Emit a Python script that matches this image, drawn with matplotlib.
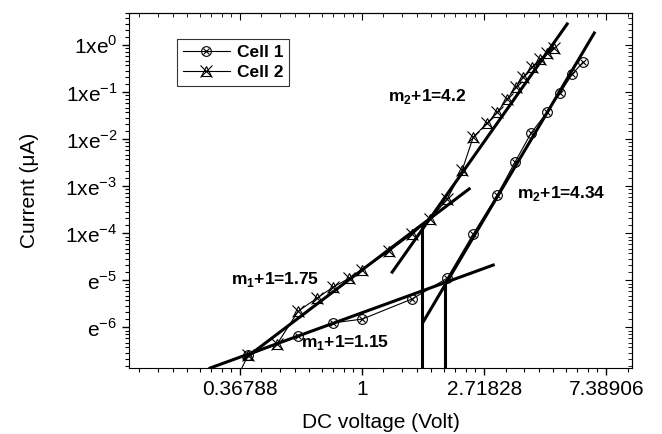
import matplotlib
matplotlib.use("Agg")
import matplotlib.pyplot as plt
import numpy as np
from matplotlib.ticker import FixedLocator, NullFormatter

plt.rcParams['font.family'] = ['Liberation Sans', 'DejaVu Sans']
plt.rcParams['mathtext.fontset'] = 'custom'
plt.rcParams['mathtext.rm'] = 'Liberation Sans'
plt.rcParams['mathtext.bf'] = 'Liberation Sans:bold'

# Cell 1 data: voltage (V) and ln(current)
v_cell1 = [0.393, 0.592, 0.788, 1.0, 1.507, 2.007, 2.484, 3.025, 3.50, 3.996, 4.55, 5.07, 5.59, 6.12]
lni_cell1 = [-6.60, -6.19, -5.91, -5.83, -5.40, -4.96, -4.02, -3.19, -2.49, -1.87, -1.43, -1.02, -0.62, -0.36]

# Cell 2 data
v_cell2 = [0.36, 0.393, 0.498, 0.592, 0.692, 0.788, 0.899, 1.0, 1.248, 1.507, 1.746, 2.007, 2.27,
           2.484, 2.786, 3.025, 3.283, 3.533, 3.743, 4.028, 4.30, 4.55, 4.83]
lni_cell2 = [-7.05, -6.60, -6.36, -5.66, -5.38, -5.15, -4.96, -4.79, -4.38, -4.02, -3.70, -3.28, -2.66,
             -1.96, -1.66, -1.43, -1.15, -0.89, -0.68, -0.47, -0.30, -0.17, -0.06]

# fitted lines: (ln V start, ln I start, ln V end, ln I end)
fit_lines = {
    'm1_cell2': (-0.967, -6.68, 0.877, -3.06),
    'm2_cell2': (0.246, -4.83, 1.680, 0.447),
    'm1_cell1': (-1.246, -6.87, 1.074, -4.68),
    'm2_cell1': (0.500, -5.89, 1.902, 0.255),
}
# vertical markers at the crossing points (ln V, ln I top)
crossings = [(0.492, -3.87), (0.680, -5.06)]

fit_labels = [r'm$_\mathbf{2}$+1=4.2', r'm$_\mathbf{2}$+1=4.34',
              r'm$_\mathbf{1}$+1=1.75', r'm$_\mathbf{1}$+1=1.15']
fit_label_pos = [(0.213, -1.085), (1.27, -3.15), (-1.074, -4.98), (-0.50, -6.33)]

x_ticks = [np.exp(-1), 1, np.exp(1), np.exp(2)]
x_ticklabels = ['0.36788', '1', '2.71828', '7.38906']
y_ticks = [np.exp(k) for k in [0, -1, -2, -3, -4, -5, -6]]
y_ticklabels = ['1xe$^{0}$', '1xe$^{-1}$', '1xe$^{-2}$', '1xe$^{-3}$', '1xe$^{-4}$', 'e$^{-5}$', 'e$^{-6}$']

fig = plt.figure(figsize=(6.62, 4.34), dpi=100)
ax = fig.add_axes([0.195, 0.152, 0.76, 0.818])
ax.set_xscale('log', base=np.e)
ax.set_yscale('log', base=np.e)

# data series
l1, = ax.plot(v_cell1, np.exp(lni_cell1), '-', color='black', lw=0.8, zorder=3)
c1a, = ax.plot(v_cell1, np.exp(lni_cell1), 'o', ms=7, mfc='none', mec='black', mew=0.8, zorder=4)
c1b, = ax.plot(v_cell1, np.exp(lni_cell1), 'x', ms=5, mec='black', mew=0.8, zorder=4)
l2, = ax.plot(v_cell2, np.exp(lni_cell2), '-', color='black', lw=0.8, zorder=3)
c2a, = ax.plot(v_cell2, np.exp(lni_cell2), '^', ms=7, mfc='none', mec='black', mew=0.8, zorder=4)
c2b, = ax.plot(v_cell2, np.exp(lni_cell2), 'x', ms=9, mec='black', mew=0.8, zorder=4)

# fits
for x0, y0, x1, y1 in fit_lines.values():
    ax.plot(np.exp([x0, x1]), np.exp([y0, y1]), color='black', lw=2.2, zorder=5)
for xc, yc in crossings:
    ax.plot(np.exp([xc, xc]), np.exp([yc, -8]), color='black', lw=2.2, zorder=5)

for txt, (lx, ly) in zip(fit_labels, fit_label_pos):
    ax.text(np.exp(lx), np.exp(ly), txt, fontsize=12.5, fontweight='bold', va='center')

ax.set_xlim(np.exp(-1.91), np.exp(2.213))
ax.set_ylim(np.exp(-6.87), np.exp(0.68))

ax.xaxis.set_major_locator(FixedLocator(x_ticks))
ax.set_xticklabels(x_ticklabels)
ax.yaxis.set_major_locator(FixedLocator(y_ticks))
ax.set_yticklabels(y_ticklabels)

sub = np.linspace(1, np.e, 10)[1:-1]
xminor = [np.exp(k) * s for k in range(-3, 3) for s in sub]
yminor = [np.exp(k) * s for k in range(-8, 2) for s in sub]
ax.xaxis.set_minor_locator(FixedLocator(xminor))
ax.yaxis.set_minor_locator(FixedLocator(yminor))
ax.xaxis.set_minor_formatter(NullFormatter())
ax.yaxis.set_minor_formatter(NullFormatter())
ax.tick_params(which='major', direction='out', length=5, width=1, labelsize=15)
ax.tick_params(which='minor', direction='out', length=3, width=0.8)

# top and right ticks pointing inward
top = ax.secondary_xaxis('top')
top.xaxis.set_major_locator(FixedLocator(x_ticks))
top.xaxis.set_minor_locator(FixedLocator(xminor))
top.xaxis.set_major_formatter(NullFormatter())
top.xaxis.set_minor_formatter(NullFormatter())
top.tick_params(which='major', direction='in', length=5)
top.tick_params(which='minor', direction='in', length=3)
right = ax.secondary_yaxis('right')
right.yaxis.set_major_locator(FixedLocator(y_ticks))
right.yaxis.set_minor_locator(FixedLocator(yminor))
right.yaxis.set_major_formatter(NullFormatter())
right.yaxis.set_minor_formatter(NullFormatter())
right.tick_params(which='major', direction='in', length=5)
right.tick_params(which='minor', direction='in', length=3)

ax.set_xlabel('DC voltage (Volt)', fontsize=15, va='top')
ax.set_ylabel('Current (\u03bcA)', fontsize=15)
ax.xaxis.set_label_coords(0.5, -0.127)
ax.yaxis.set_label_coords(-0.18, 0.5)

leg = ax.legend([(l1, c1a, c1b), (l2, c2a, c2b)], ['Cell 1', 'Cell 2'], loc='upper left',
                bbox_to_anchor=(0.095, 0.927), borderaxespad=0, frameon=True, fancybox=False,
                edgecolor='black', prop={'weight': 'bold', 'size': 12.5},
                handlelength=2.7, borderpad=0.35, labelspacing=0.25, handletextpad=0.4)
leg.get_frame().set_linewidth(0.8)

fig.savefig('out.png', dpi=100)
